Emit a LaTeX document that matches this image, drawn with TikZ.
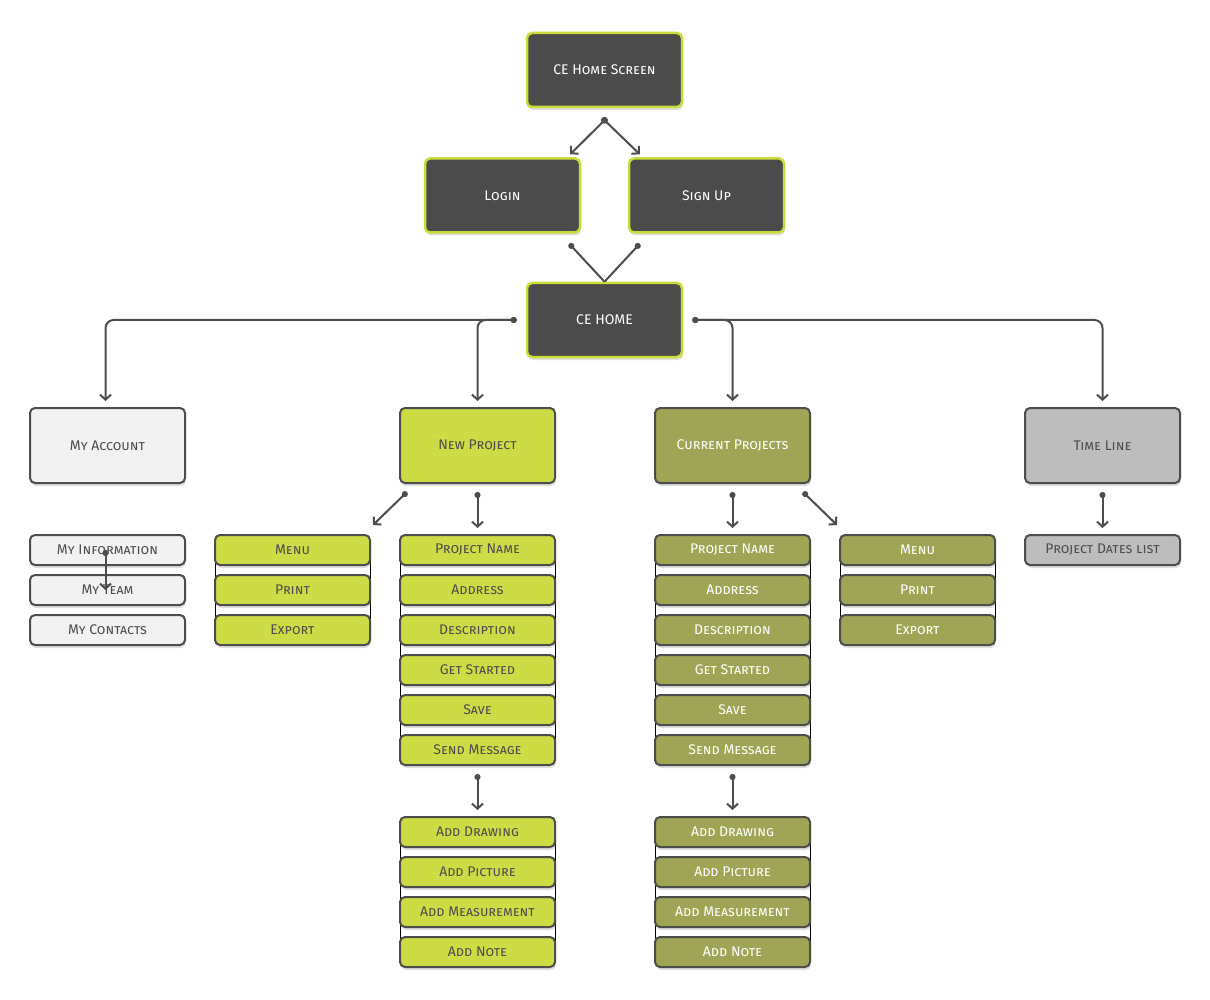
\documentclass[tikz,border=0pt]{standalone}
\usepackage{fontspec}
\setmainfont{Fira Sans}
\usetikzlibrary{positioning,arrows.meta,shadows,backgrounds}

\definecolor{screenfill}{HTML}{4B4B4B}
\definecolor{screenedge}{HTML}{C9DC3A}
\definecolor{linegray}{HTML}{4D4D4D}
\definecolor{limefill}{HTML}{CDDB45}
\definecolor{olivefill}{HTML}{9FA555}
\definecolor{lightfill}{HTML}{F2F2F2}
\definecolor{grayfill}{HTML}{BDBDBD}

\begin{document}
\begin{tikzpicture}[
			x=1pt,y=-1pt,
			font=\fontsize{14}{16}\selectfont,
			>={Straight Barb[length=5pt,width=11pt]},
			link/.style={draw=linegray,line width=2pt,{Circle[length=6pt]}->},
			joint/.style={draw=linegray,line width=2pt,{Circle[length=6pt]}-},
			box/.style={rectangle,draw=linegray,line width=2pt,rounded corners=5pt,
				minimum width=155pt,inner sep=2pt,align=center,text=linegray,
				drop shadow={opacity=0.25,shadow xshift=1pt,shadow yshift=-3pt}},
			screen/.style={box,fill=screenfill,draw=screenedge,line width=2.5pt,
				text=white,minimum height=74pt},
			section/.style={box,minimum height=75pt},
			item/.style={box,minimum height=30pt},
			lime/.style={fill=limefill},
			olive/.style={fill=olivefill,text=white},
			light/.style={fill=lightfill},
			grey/.style={fill=grayfill},
			]
			\useasboundingbox (0,0) rectangle (1210,1000);
			
			% Screens
			\node[screen] (top) at (604.5,70) {\textsc{CE Home Screen}};
			\node[screen] (login) at (502.5,195.5) {\textsc{Login}};
			\node[screen] (signup) at (706.5,195.5) {\textsc{Sign Up}};
			\node[screen] (home) at (604.5,320) {CE HOME};
			
			% Sections
			\node[section,light] (acc) at (107.5,445.5) {\textsc{My Account}};
			\node[section,lime] (np) at (477.5,445.5) {\textsc{New Project}};
			\node[section,olive] (cp) at (732.5,445.5) {\textsc{Current Projects}};
			\node[section,grey] (tl) at (1102.5,445.5) {\textsc{Time Line}};
			
			% Items
			\foreach \t [count=\i] in {My Information,My Team,My Contacts}
			\node[item,light] (acc\i) at (107.5,510+40*\i) {\textsc{\t}};
			\foreach \t [count=\i] in {Menu,Print,Export}
			\node[item,lime] (nm\i) at (292.5,510+40*\i) {\textsc{\t}};
			\foreach \t [count=\i] in {Project Name,Address,Description,Get Started,Save,Send Message}
			\node[item,lime] (np\i) at (477.5,510+40*\i) {\textsc{\t}};
			\foreach \t [count=\i] in {Add Drawing,Add Picture,Add Measurement,Add Note}
			\node[item,lime] (npa\i) at (477.5,792+40*\i) {\textsc{\t}};
			\foreach \t [count=\i] in {Project Name,Address,Description,Get Started,Save,Send Message}
			\node[item,olive] (cp\i) at (732.5,510+40*\i) {\textsc{\t}};
			\foreach \t [count=\i] in {Add Drawing,Add Picture,Add Measurement,Add Note}
			\node[item,olive] (cpa\i) at (732.5,792+40*\i) {\textsc{\t}};
			\foreach \t [count=\i] in {Menu,Print,Export}
			\node[item,olive] (cm\i) at (917.5,510+40*\i) {\textsc{\t}};
			\node[item,grey] (tl1) at (1102.5,550) {\textsc{Project Dates list}};
			
			% Thin rails behind the stacks
			\begin{scope}[on background layer]
				\foreach \a/\b in {nm1/nm3,np1/np6,npa1/npa4,cp1/cp6,cpa1/cpa4,cm1/cm3} {
					\draw[black,thin] ([xshift=1pt]\a.west) -- ([xshift=1pt]\b.west);
					\draw[black,thin] ([xshift=-1pt]\a.east) -- ([xshift=-1pt]\b.east);
				}
			\end{scope}
			
			% Connections
			\coordinate (split) at ([yshift=-12pt]top.south);
			\draw[draw=linegray,line width=2pt,->] (split) -- ([shift={(-11pt,3pt)}]login.north east);
			\draw[draw=linegray,line width=2pt,->] (split) -- ([shift={(12pt,3pt)}]signup.north west);
			\fill[linegray] (split) circle (3.5pt);
			\draw[joint] ([shift={(-12pt,-10pt)}]login.south east) -- (home.north);
			\draw[joint] ([shift={(12pt,-10pt)}]signup.south west) -- (home.north);
			
			\draw[link,rounded corners=8pt] ([xshift=-9pt]home.west) -| ([xshift=-2pt,yshift=6pt]acc.north);
			\draw[link,rounded corners=8pt] ([xshift=-9pt]home.west) -| ([yshift=6pt]np.north);
			\draw[link,rounded corners=8pt] ([xshift=9pt]home.east) -| ([yshift=6pt]cp.north);
			\draw[link,rounded corners=8pt] ([xshift=9pt]home.east) -| ([yshift=6pt]tl.north);
			
			\draw[link] ([shift={(8pt,-8pt)}]np.south west) -- ([shift={(2pt,9pt)}]nm1.north east);
			\draw[link] ([yshift=-8pt]np.south) -- ([yshift=6pt]np1.north);
			\draw[link] ([yshift=-8pt]cp.south) -- ([yshift=6pt]cp1.north);
			\draw[link] ([shift={(-8pt,-8pt)}]cp.south east) -- ([shift={(-2pt,9pt)}]cm1.north west);
			\draw[link] ([yshift=-8pt]tl.south) -- ([yshift=6pt]tl1.north);
			\draw[link] ([xshift=-2pt]acc1.center) -- ([xshift=-2pt]acc2.center);
			
			\draw[link] ([yshift=-8pt]np6.south) -- ([yshift=6pt]npa1.north);
			\draw[link] ([yshift=-8pt]cp6.south) -- ([yshift=6pt]cpa1.north);
			
		\end{tikzpicture}
\end{document}
